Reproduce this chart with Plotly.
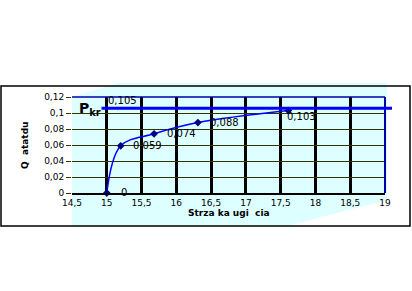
import plotly.graph_objects as go

# data
x_vals = [15.0, 15.2, 15.68, 16.31, 17.61]
y_vals = [0.0, 0.059, 0.074, 0.088, 0.103]
labels = ["0", "0,059", "0,074", "0,088", "0,103"]
pkr_value = 0.106
pkr_label = "0,105"
x_ticks = [14.5, 15, 15.5, 16, 16.5, 17, 17.5, 18, 18.5, 19]
x_ticktext = ["14,5", "15", "15,5", "16", "16,5", "17", "17,5", "18", "18,5", "19"]
y_ticks = [0, 0.02, 0.04, 0.06, 0.08, 0.1, 0.12]
y_ticktext = ["0", "0,02", "0,04", "0,06", "0,08", "0,1", "0,12"]

# label placement offsets (pixels)
label_dx = [12, 10, 11, 10, -3]
label_dy = [1, 0, 0, 0, -6]

W, H = 412, 291
L, R, T, B = 72, 385, 97, 193


def px(x):
    return (x - L) / (R - L)


def py(y):
    return (B - y) / (B - T)


font_fam = "DejaVu Sans, Arial, sans-serif"

fig = go.Figure()
fig.add_trace(go.Scatter(
    x=x_vals, y=y_vals, mode="lines+markers",
    line=dict(color="#0000FF", width=1.5, shape="spline", smoothing=1.0),
    marker=dict(symbol="diamond", size=6, color="#000080"),
    cliponaxis=False, showlegend=False, hoverinfo="skip",
))

shapes = []
# cyan 3D-like background
pts = [(72, 97), (118, 83), (387, 83), (387, 200), (287, 226), (72, 226)]
path = "M " + " L ".join(f"{px(a):.4f} {py(b):.4f}" for a, b in pts) + " Z"
shapes.append(dict(type="path", xref="paper", yref="paper", path=path,
                   fillcolor="#DDFFFF", line=dict(width=0), layer="below"))
# outer frame
shapes.append(dict(type="rect", xref="paper", yref="paper",
                   x0=px(1), x1=px(410), y0=py(226), y1=py(86),
                   line=dict(color="black", width=1.5), layer="below"))
# top and right blue borders
shapes.append(dict(type="line", xref="paper", yref="paper", x0=0, x1=1, y0=1, y1=1,
                   line=dict(color="#0000AA", width=1.5)))
shapes.append(dict(type="line", xref="paper", yref="paper", x0=1, x1=1, y0=0, y1=1,
                   line=dict(color="#0000AA", width=2)))
# Pkr line
shapes.append(dict(type="line", xref="paper", yref="y", x0=px(101.5), x1=px(392),
                   y0=pkr_value, y1=pkr_value,
                   line=dict(color="#0000FF", width=3)))

annotations = []
for xv, yv, t, dx, dy in zip(x_vals, y_vals, labels, label_dx, label_dy):
    annotations.append(dict(x=xv, y=yv, xref="x", yref="y", text=t, showarrow=False,
                            xanchor="left", yanchor="middle", xshift=dx, yshift=dy,
                            font=dict(family=font_fam, size=10, color="black")))
annotations.append(dict(x=15.0, y=pkr_value, xref="x", yref="y", text=pkr_label,
                        showarrow=False, xanchor="left", yanchor="bottom", xshift=-1, yshift=0,
                        font=dict(family=font_fam, size=10, color="black")))
annotations.append(dict(x=px(77), y=pkr_value, xref="paper", yref="y",
                        text="<b>P</b><sub><b>kr</b></sub>", showarrow=False,
                        xanchor="left", yanchor="middle", yshift=-1,
                        font=dict(family=font_fam, size=14, color="black")))
annotations.append(dict(x=0.5, y=py(213), xref="paper", yref="paper",
                        text="<b>Strza ka ugi  cia</b>", showarrow=False,
                        xanchor="center", yanchor="middle",
                        font=dict(family=font_fam, size=9, color="black")))
annotations.append(dict(x=px(25), y=0.5, xref="paper", yref="paper",
                        text="<b>Q  atatdu</b>", showarrow=False, textangle=-90,
                        xanchor="center", yanchor="middle",
                        font=dict(family=font_fam, size=9, color="black")))

fig.update_layout(
    width=W, height=H,
    margin=dict(l=L, r=W - R, t=T, b=H - B, pad=0),
    paper_bgcolor="white", plot_bgcolor="#DDFFFF",
    shapes=shapes, annotations=annotations,
    separators=",.",
    xaxis=dict(range=[14.5, 19], tickvals=x_ticks, ticktext=x_ticktext,
               showgrid=True, gridcolor="black", gridwidth=2.5,
               showline=True, linecolor="black", linewidth=2,
               ticks="", zeroline=False,
               tickfont=dict(family=font_fam, size=9, color="black")),
    yaxis=dict(range=[0, 0.12], tickvals=y_ticks, ticktext=y_ticktext,
               showgrid=True, gridcolor="#333300", gridwidth=1,
               showline=False, ticks="outside", ticklen=5, tickcolor="#333300",
               zeroline=False,
               tickfont=dict(family=font_fam, size=9, color="black")),
)

fig.write_html("out.html")
